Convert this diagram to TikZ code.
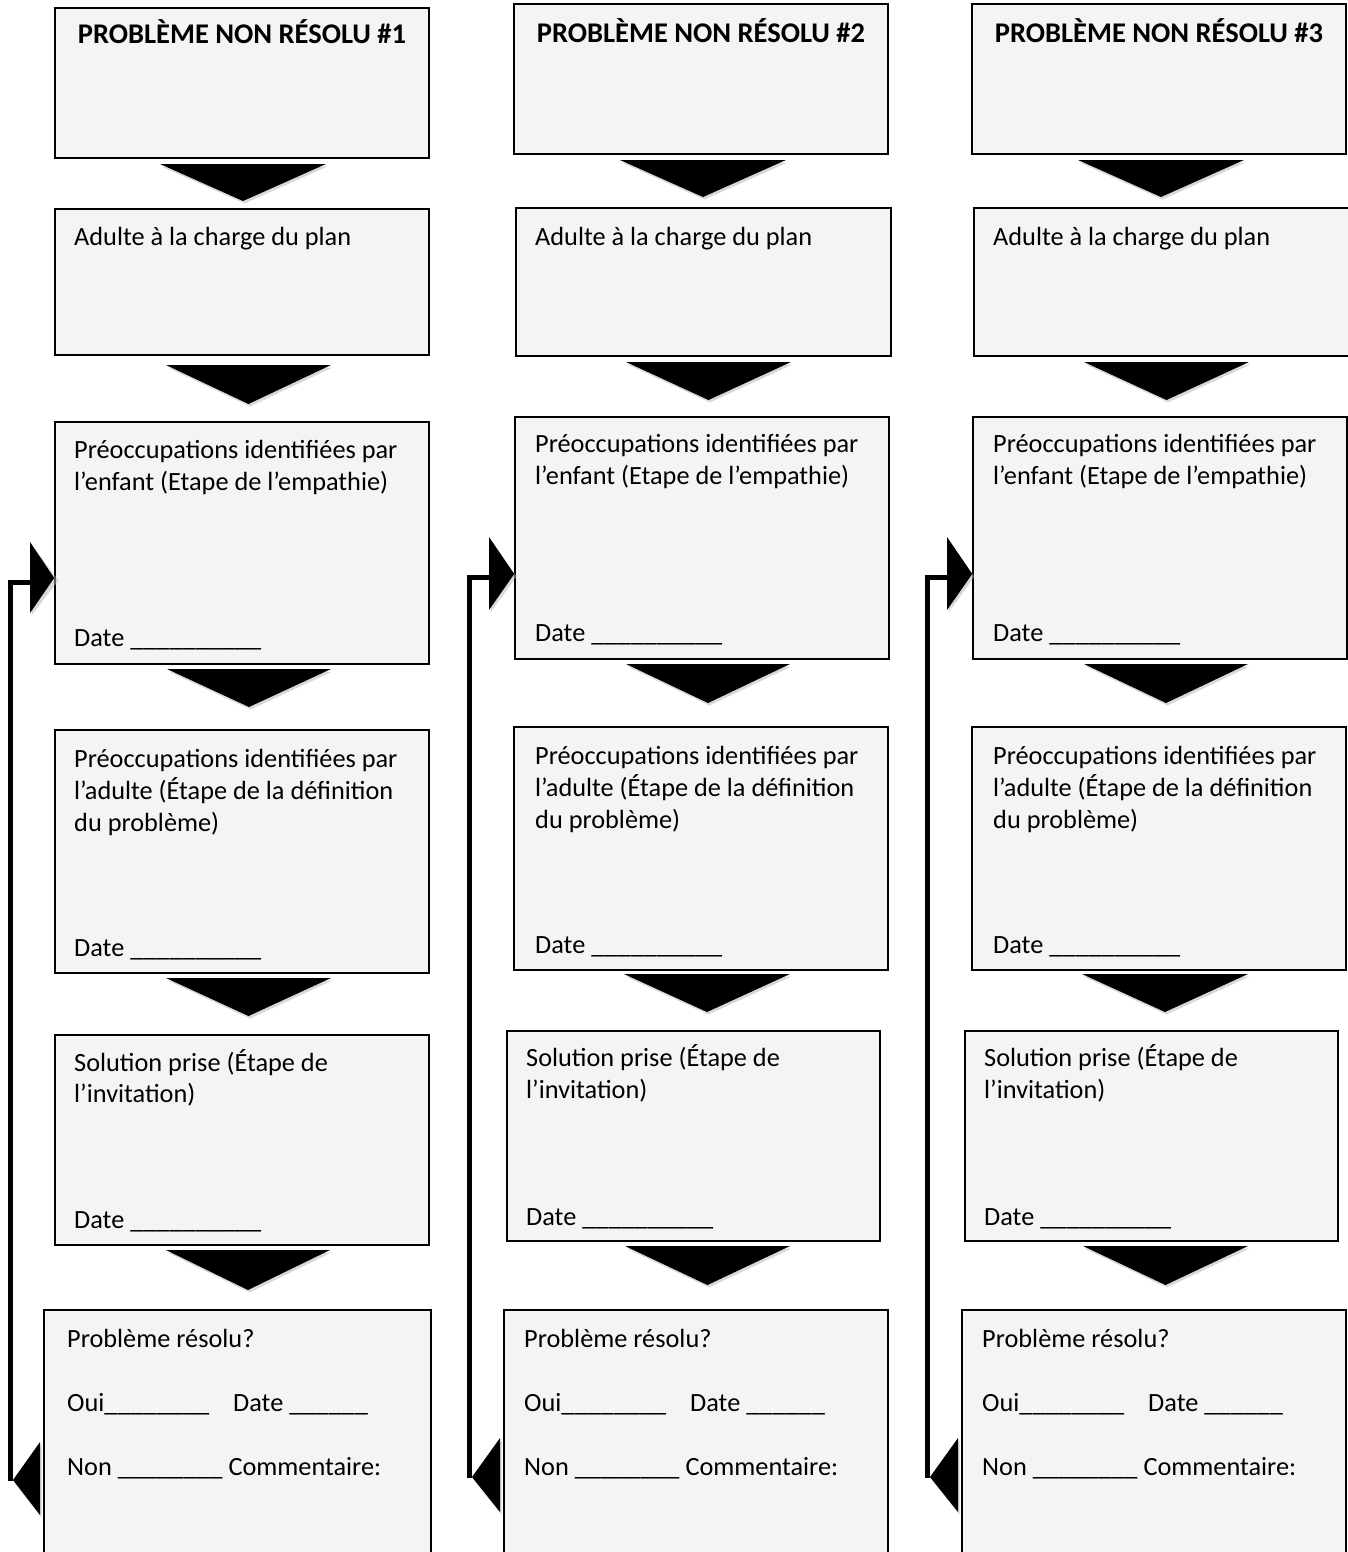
\documentclass[tikz,border=0pt]{standalone}
\usepackage{fontspec}
\setmainfont{Carlito}
\usetikzlibrary{fit}
\definecolor{boxfill}{RGB}{244,244,244}
\begin{document}
\begin{tikzpicture}[x=1pt,y=-1pt,
  ibox/.style={draw=black, line width=1.6pt, fill=boxfill, inner sep=0pt},
  tri/.style={fill=black},
  trishadow/.style={fill=black!30, opacity=0.5},
  loopline/.style={draw=black, line width=5pt},
  txt/.style={anchor=base west, inner sep=0pt, font=\fontsize{26.3}{32}\selectfont},
  ttl/.style={anchor=base, inner sep=0pt, font=\bfseries\fontsize{28.5}{32}\selectfont}]
\useasboundingbox (0,0) rectangle (1348,1552);
\clip (0,0) rectangle (1348,1552);

% ---------------- column 1 ----------------
\node[ibox, fit={(55,8) (429,158)}] (c1b1) {};
\node[ibox, fit={(55,209) (429,355)}] (c1b2) {};
\node[ibox, fit={(55,422) (429,664)}] (c1b3) {};
\node[ibox, fit={(55,730) (429,973)}] (c1b4) {};
\node[ibox, fit={(55,1035) (429,1245)}] (c1b5) {};
\node[ibox, fit={(44,1310) (431,1570)}] (c1b6) {};

\foreach \a/\b/\c/\d in {160/326/164/201, 166/331/365/404, 167/331/669/707, 166/331/978/1016, 166/330/1250/1290}{
  \pgfmathsetmacro\m{(\a+\b)/2}
  \fill[trishadow] (\a+1.5,\c+2.5) -- (\b+1.5,\c+2.5) -- (\m+1.5,\d+2.5) -- cycle;
  \fill[tri] (\a,\c) -- (\b,\c) -- (\m,\d) -- cycle;
}

\node[ttl] (c1t) at (242,44) {PROBLÈME NON RÉSOLU \#1};
\node[txt] (c1a) at (74,245) {Adulte à la charge du plan};
\node[txt] (c1p1) at (74,458) {Préoccupations identifiées par};
\node[txt] (c1p2) at (74,490) {l’enfant (Etape de l’empathie)};
\node[txt] (c1p3) at (74,646) {Date \_\_\_\_\_\_\_\_\_\_};
\node[txt] (c1q1) at (74,767) {Préoccupations identifiées par};
\node[txt] (c1q2) at (74,799) {l’adulte (Étape de la définition};
\node[txt] (c1q3) at (74,831) {du problème)};
\node[txt] (c1q4) at (74,956) {Date \_\_\_\_\_\_\_\_\_\_};
\node[txt] (c1s1) at (74,1071) {Solution prise (Étape de};
\node[txt] (c1s2) at (74,1102) {l’invitation)};
\node[txt] (c1s3) at (74,1228) {Date \_\_\_\_\_\_\_\_\_\_};
\node[txt] (c1r1) at (67,1347) {Problème résolu?};
\node[txt] (c1r2) at (67,1411) {Oui\_\_\_\_\_\_\_\_};
\node[txt] (c1r3) at (233,1411) {Date \_\_\_\_\_\_};
\node[txt] (c1r4) at (67,1475) {Non \_\_\_\_\_\_\_\_ Commentaire:};

\coordinate (c1in) at (30,582);
\coordinate (c1out) at (13,1480);
\draw[loopline] (10.5,1481) -- (10.5,582) -- (c1in);
\fill[trishadow] (31.5,544.5) -- (58.5,580.5) -- (31.5,615.5) -- cycle;
\fill[tri] (30,542) -- (c1b3.west |- 0,578) -- (30,613) -- cycle;
\fill[trishadow] (41.5,1444.5) -- (14.5,1482.5) -- (41.5,1517.5) -- cycle;
\fill[tri] (40,1442) -- (c1out) -- (40,1515) -- cycle;

% ---------------- columns 2 and 3 ----------------
\foreach \k/\dx in {2/0, 3/458}{
\begin{scope}[xshift=\dx]
\node[ibox, fit={(514,4) (888,154)}] (c\k b1) {};
\node[ibox, fit={(516,208) (891,356)}] (c\k b2) {};
\node[ibox, fit={(515,417) (889,659)}] (c\k b3) {};
\node[ibox, fit={(514,727) (888,970)}] (c\k b4) {};
\node[ibox, fit={(507,1031) (880,1241)}] (c\k b5) {};
\node[ibox, fit={(504,1310) (888,1570)}] (c\k b6) {};

\foreach \a/\b/\c/\d in {620/786/160/197, 626/791/362/400, 626/790/664/703, 624/790/974/1012, 625/790/1246/1285}{
  \pgfmathsetmacro\m{(\a+\b)/2}
  \fill[trishadow] (\a+1.5,\c+2.5) -- (\b+1.5,\c+2.5) -- (\m+1.5,\d+2.5) -- cycle;
  \fill[tri] (\a,\c) -- (\b,\c) -- (\m,\d) -- cycle;
}

\node[ttl] (c\k t) at (701,43) {PROBLÈME NON RÉSOLU \#\k};
\node[txt] (c\k a) at (535,245) {Adulte à la charge du plan};
\node[txt] (c\k p1) at (535,452) {Préoccupations identifiées par};
\node[txt] (c\k p2) at (535,484) {l’enfant (Etape de l’empathie)};
\node[txt] (c\k p3) at (535,641) {Date \_\_\_\_\_\_\_\_\_\_};
\node[txt] (c\k q1) at (535,764) {Préoccupations identifiées par};
\node[txt] (c\k q2) at (535,796) {l’adulte (Étape de la définition};
\node[txt] (c\k q3) at (535,828) {du problème)};
\node[txt] (c\k q4) at (535,953) {Date \_\_\_\_\_\_\_\_\_\_};
\node[txt] (c\k s1) at (526,1066) {Solution prise (Étape de};
\node[txt] (c\k s2) at (526,1098) {l’invitation)};
\node[txt] (c\k s3) at (526,1225) {Date \_\_\_\_\_\_\_\_\_\_};
\node[txt] (c\k r1) at (524,1347) {Problème résolu?};
\node[txt] (c\k r2) at (524,1411) {Oui\_\_\_\_\_\_\_\_};
\node[txt] (c\k r3) at (690,1411) {Date \_\_\_\_\_\_};
\node[txt] (c\k r4) at (524,1475) {Non \_\_\_\_\_\_\_\_ Commentaire:};

\coordinate (c\k in) at (489,577);
\coordinate (c\k out) at (472,1477);
\draw[loopline] (469.5,1478) -- (469.5,577) -- (c\k in);
\fill[trishadow] (490.5,539.5) -- (516.5,576.5) -- (490.5,612.5) -- cycle;
\fill[tri] (489,537) -- (c\k b3.west |- 0,574) -- (489,610) -- cycle;
\fill[trishadow] (501.5,1440.5) -- (473.5,1479.5) -- (501.5,1514.5) -- cycle;
\fill[tri] (500,1438) -- (c\k out) -- (500,1512) -- cycle;
\end{scope}
}
\end{tikzpicture}
\end{document}
